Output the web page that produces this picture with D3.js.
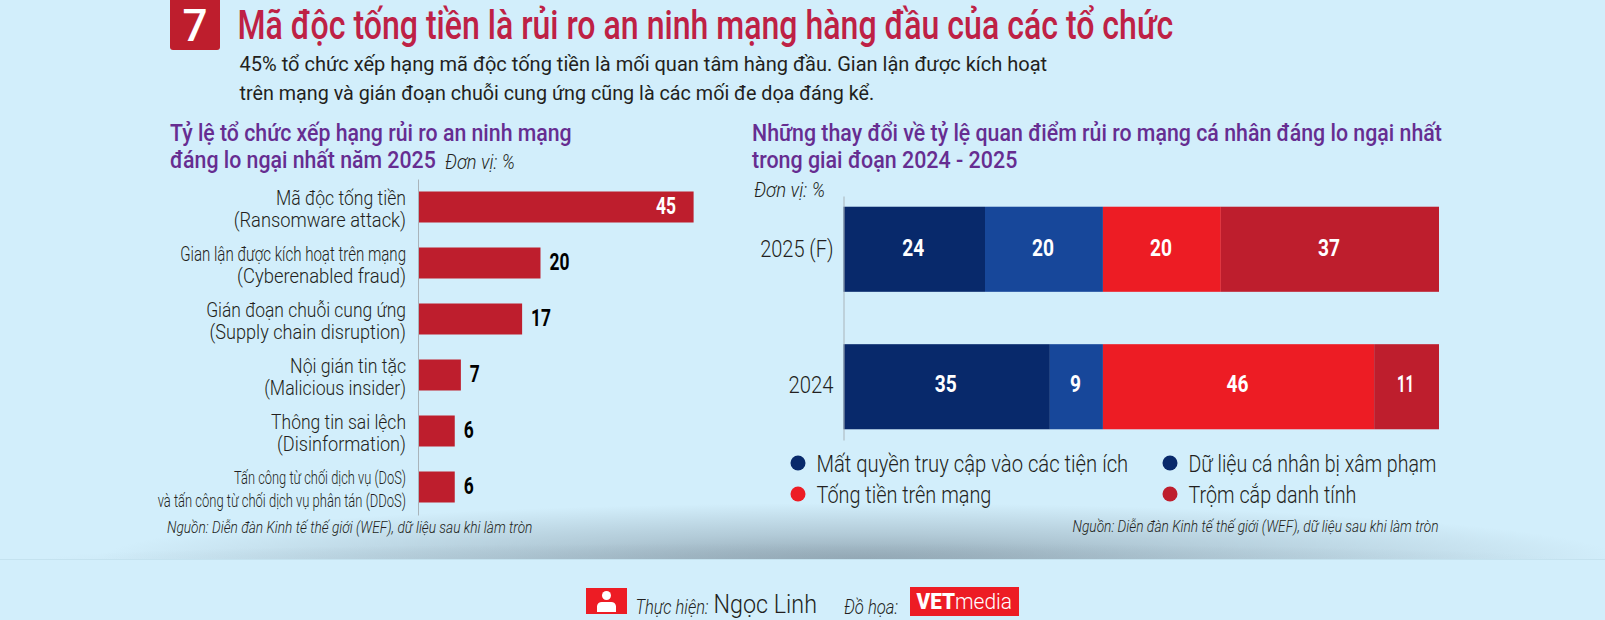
<!DOCTYPE html>
<html><head><meta charset="utf-8">
<script src="https://cdn.jsdelivr.net/npm/d3@7/dist/d3.min.js"></script>
<style>html,body{margin:0;padding:0;background:#d2eefb;overflow:hidden}svg{display:block}text{font-family:Roboto,"Liberation Sans",sans-serif}</style>
</head><body><svg id="c" width="1605" height="620"></svg>
<script>
// ---------- data ----------
const riskLabels = [
  ["Mã độc tống tiền","(Ransomware attack)"],
  ["Gian lận được kích hoạt trên mạng","(Cyberenabled fraud)"],
  ["Gián đoạn chuỗi cung ứng","(Supply chain disruption)"],
  ["Nội gián tin tặc","(Malicious insider)"],
  ["Thông tin sai lệch","(Disinformation)"],
  ["Tấn công từ chối dịch vụ (DoS)","và tấn công từ chối dịch vụ phân tán (DDoS)"]
];
const riskValues = [45,20,17,7,6,6];
const years = ["2025 (F)","2024"];
const seriesNames = ["Mất quyền truy cập vào các tiện ích","Dữ liệu cá nhân bị xâm phạm","Tống tiền trên mạng","Trộm cắp danh tính"];
const accessLoss = [24,35];
const dataBreach = [20,9];
const extortion = [20,46];
const identityTheft = [37,11];
const seriesColors = ["#08296b","#17479a","#ed1c24","#be1e2d"];
const legendColors = ["#08296b","#08296b","#ed1c24","#be1e2d"];

// ---------- helpers ----------
const svg = d3.select("#c");
const INK = "#231f20", PURPLE = "#662d91", CRIMSON = "#be2145";
// squeeze a text horizontally to a target width (condensed look) around its anchor
function squeeze(t,x,y,w){
  const n = t.node().getComputedTextLength();
  t.attr("x",0).attr("y",0).attr("transform",`translate(${x},${y}) scale(${w/n},1)`);
}
function put(str,x,y,o={}){
  const t = svg.append("text").attr("x",x).attr("y",y).text(str)
    .attr("font-size",o.size||20).attr("font-weight",o.weight||400).attr("fill",o.fill||INK)
    .attr("font-style",o.italic?"italic":"normal").attr("text-anchor",o.anchor||"start");
  if(o.w) squeeze(t,x,y,o.w);
  return t;
}

// ---------- background shadow ----------
const defs = svg.append("defs");
const rg = defs.append("radialGradient").attr("id","shade");
rg.append("stop").attr("offset","0%").attr("stop-color","#93a8b5").attr("stop-opacity",1);
rg.append("stop").attr("offset","45%").attr("stop-color","#93a8b5").attr("stop-opacity",0.5);
rg.append("stop").attr("offset","100%").attr("stop-color","#93a8b5").attr("stop-opacity",0);
defs.append("clipPath").attr("id","shadeClip").append("rect").attr("x",0).attr("y",480).attr("width",1605).attr("height",79);
const shade = svg.append("g").attr("clip-path","url(#shadeClip)");
shade.append("ellipse").attr("cx",860).attr("cy",559).attr("rx",760).attr("ry",56).attr("fill","url(#shade)");
shade.append("ellipse").attr("cx",802).attr("cy",559).attr("rx",760).attr("ry",16).attr("fill","url(#shade)").attr("opacity",0.45);
svg.append("rect").attr("x",0).attr("y",559).attr("width",1605).attr("height",1).attr("fill","#c4e2ef");

// ---------- header ----------
svg.append("path").attr("d","M170 0H220V47a3 3 0 0 1-3 3H173a3 3 0 0 1-3-3Z").attr("fill","#be1e2d");
put("7",195,41,{size:44,weight:500,fill:"#fff",anchor:"middle"});
put("Mã độc tống tiền là rủi ro an ninh mạng hàng đầu của các tổ chức",237.5,39,{size:41,weight:500,fill:CRIMSON,w:936});
put("45% tổ chức xếp hạng mã độc tống tiền là mối quan tâm hàng đầu. Gian lận được kích hoạt",239.5,71,{size:21,w:808});
put("trên mạng và gián đoạn chuỗi cung ứng cũng là các mối đe dọa đáng kể.",239.5,100,{size:21,w:635});

// ---------- left chart ----------
put("Tỷ lệ tổ chức xếp hạng rủi ro an ninh mạng",170,141,{size:24.5,weight:500,fill:PURPLE,w:402});
put("đáng lo ngại nhất năm 2025",170,168,{size:24.5,weight:500,fill:PURPLE,w:266});
put("Đơn vị: %",445,169,{size:20,weight:300,italic:true,w:70});

const labelWidths = [[130,172.5],[226,169],[200,196.5],[116,142],[135,129],[172,248.5]];
const x = d3.scaleLinear().domain([0,45]).range([418,693.6]);
const y = d3.scaleBand().domain(d3.range(riskValues.length)).range([179,515]).paddingInner(25/56).paddingOuter(12.5/56);
svg.selectAll(".bar").data(riskValues).join("rect").attr("class","bar")
  .attr("x",x(0)).attr("y",(d,i)=>y(i)).attr("width",d=>x(d)-x(0)).attr("height",y.bandwidth()).attr("fill","#be1e2d");
const axL = svg.append("g").attr("transform","translate(418,0)")
  .call(d3.axisLeft(y).tickSize(0).tickFormat(""));
axL.select(".domain").attr("stroke","#a9b4ba").attr("stroke-width",1);
riskLabels.forEach((ls,i)=>{
  const small = i===5;
  ls.forEach((s,j)=>{
    put(s,406,y(i)+(small?12:13)+j*(small?23:22.5),{size:small?19:20,weight:300,anchor:"end",w:labelWidths[i][j]});
  });
});
riskValues.forEach((v,i)=>{
  const inside = i===0;
  put(v,inside?x(v)-17.5:x(v)+9,y(i)+y.bandwidth()/2+7,{size:23,weight:700,fill:inside?"#fff":"#000",anchor:inside?"end":"start",w:v>9?20:10});
});
put("Nguồn: Diễn đàn Kinh tế thế giới (WEF), dữ liệu sau khi làm tròn",167,533,{size:16,weight:300,italic:true,w:366});

// ---------- right chart ----------
put("Những thay đổi về tỷ lệ quan điểm rủi ro mạng cá nhân đáng lo ngại nhất",752,141,{size:24.5,weight:500,fill:PURPLE,w:690});
put("trong giai đoạn 2024 - 2025",752,168,{size:24.5,weight:500,fill:PURPLE,w:265.5});
put("Đơn vị: %",754,197,{size:20,weight:300,italic:true,w:71});

const rows = years.map((yr,i)=>({year:yr,a:accessLoss[i],b:dataBreach[i],c:extortion[i],d:identityTheft[i]}));
const stacked = d3.stack().keys(["a","b","c","d"])(rows);
const x2 = d3.scaleLinear().domain([0,101]).range([843.5,1439]);
const y2 = d3.scaleBand().domain(years).range([196,440]).paddingInner(0.381).paddingOuter(0.078);
const layers = svg.selectAll(".layer").data(stacked).join("g").attr("class","layer").attr("fill",(d,i)=>seriesColors[i]);
layers.selectAll("rect").data(d=>d).join("rect")
  .attr("y",d=>y2(d.data.year)).attr("height",y2.bandwidth())
  .attr("x",d=>x2(d[0])).attr("width",d=>x2(Math.min(d[1],101))-x2(d[0]));
layers.selectAll("text").data(d=>d).join("text")
  .attr("text-anchor","middle").attr("font-size",23).attr("font-weight",700).attr("fill","#fff")
  .text(d=>d[1]-d[0])
  .each(function(d){
    const v = d[1]-d[0];
    const up = d.data.year===years[1]?1.5:0;
    squeeze(d3.select(this),(x2(d[0])+x2(Math.min(d[1],101)))/2-1,y2(d.data.year)+y2.bandwidth()/2+7-up,v>9?(v===11?17:22):11);
  });
const axR = svg.append("g").attr("transform","translate(843.5,0)")
  .call(d3.axisLeft(y2).tickSize(0));
axR.select(".domain").attr("stroke","#a9b4ba").attr("stroke-width",1);
axR.selectAll("g.tick text").attr("font-size",24).attr("font-weight",300).attr("fill",INK).attr("dy",null)
  .attr("text-anchor","end")
  .each(function(d,i){
    squeeze(d3.select(this),-10,i===0?8:6.5,i===0?73.4:45);
  });

// legend
const legendX = [798,1170], legendY = [463,494];
const legendW = [312,248,175,168];
seriesNames.forEach((s,i)=>{
  const cx = legendX[i%2], cy = legendY[Math.floor(i/2)];
  svg.append("circle").attr("cx",cx).attr("cy",cy).attr("r",7.5).attr("fill",legendColors[i]);
  put(s,cx+18.5,cy+9,{size:24,weight:300,w:legendW[i]});
});
put("Nguồn: Diễn đàn Kinh tế thế giới (WEF), dữ liệu sau khi làm tròn",1072.5,532,{size:16,weight:300,italic:true,w:366.5});

// ---------- footer ----------
svg.append("rect").attr("x",586).attr("y",588).attr("width",41).attr("height",26).attr("fill","#ed1c24");
svg.append("circle").attr("cx",606.5).attr("cy",595.5).attr("r",4.5).attr("fill","#fff");
svg.append("path").attr("d","M597 612V606a5 5 0 0 1 5-4h9a5 5 0 0 1 5 4v6Z").attr("fill","#fff");
put("Thực hiện:",635.5,614,{size:20,weight:300,italic:true,w:73});
put("Ngọc Linh",713.5,613,{size:26,weight:300,w:103.5});
put("Đồ họa:",844,614,{size:20,weight:300,italic:true,w:54});
svg.append("rect").attr("x",910).attr("y",587).attr("width",109).attr("height",29).attr("fill","#ed1c24");
put("VET",916.5,609,{size:22,weight:900,fill:"#fff",w:38.5});
put("media",955,609,{size:22,weight:300,fill:"#fff",w:57});
</script></body></html>
